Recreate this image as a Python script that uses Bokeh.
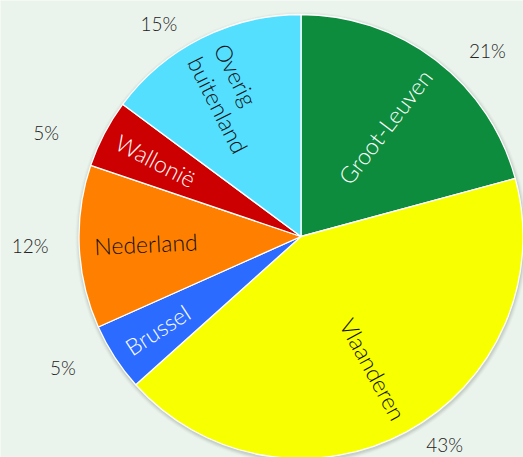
import math
import re
import numpy as np
from bokeh.plotting import figure
from bokeh.models import Range1d, ColumnDataSource
from bokeh.core.properties import value
from bokeh.embed import file_html
from bokeh.resources import INLINE

# ---- data ----
categories = ["Groot-Leuven", "Vlaanderen", "Brussel", "Nederland", "Wallonië", "Overig\nbuitenland"]
percentages = [21, 43, 5, 12, 5, 15]
slice_colors = ["#0C8C3C", "#F8FF00", "#2B6BFF", "#FF8000", "#CC0000", "#55DFFF"]
label_colors = ["#FFFFFF", "#111111", "#FFFFFF", "#111111", "#FFFFFF", "#111111"]
pct_labels = [f"{v}%" for v in percentages]

# ---- layout ----
BG = "#EBF4EC"
W, H = 523, 457
CX, CY = 300.5, H - 236.0
R = 222.0
LABEL_R = 0.932 * R
pct_angle_shift = [7.7, -6.1, 4.1, 0.7, -5.5, -7.0]      # degrees, layout nudge
pct_radius = [263, 253, 272, 271, 275, 256]               # px from centre, layout
FONT = value("'Lato Light', Lato")

vals = np.array(percentages, dtype=float)
frac = vals / vals.sum()
cum_end = np.cumsum(frac) * 2 * math.pi
cum_start = cum_end - frac * 2 * math.pi
start_angle = math.pi / 2 - cum_start
end_angle = math.pi / 2 - cum_end
mid_cw = (cum_start + cum_end) / 2  # clockwise from top

p = figure(width=W, height=H, x_range=Range1d(0, W), y_range=Range1d(0, H),
           output_backend="svg", toolbar_location=None,
           x_axis_type=None, y_axis_type=None, min_border=0,
           outline_line_color=None, background_fill_color=BG,
           border_fill_color=BG)
p.grid.visible = False

# soft shadow
for dr, a in [(4, 0.05), (3, 0.07), (2, 0.10), (1, 0.14)]:
    p.circle(x=CX + 0.5, y=CY - 1.5, radius=R + dr, fill_color="#7F8A80",
             fill_alpha=a, line_color=None)

src = ColumnDataSource(dict(start=start_angle, end=end_angle, color=slice_colors))
p.wedge(x=CX, y=CY, radius=R, start_angle="start", end_angle="end",
        direction="clock", fill_color="color", line_color="#FFFFFF",
        line_width=1.3, source=src)

# slice labels, anchored at outer end, rotated radially
lx, ly, ang, align = [], [], [], []
for m in mid_cw:
    phi = math.pi / 2 - m
    lx.append(CX + LABEL_R * math.cos(phi))
    ly.append(CY + LABEL_R * math.sin(phi))
    if math.cos(phi) >= 0:
        ang.append(phi)
        align.append("right")
    else:
        ang.append(phi + math.pi)
        align.append("left")
lsrc = ColumnDataSource(dict(x=lx, y=ly, text=categories, angle=ang,
                             align=align, color=label_colors))
p.text(x="x", y="y", text="text", angle="angle", text_align="align",
       text_baseline="middle", text_color="color", text_font=FONT,
       text_font_size="23px", text_line_height=1.05, source=lsrc)

# percentage labels outside
px_, py_ = [], []
for m, s, r in zip(mid_cw, pct_angle_shift, pct_radius):
    th = m + math.radians(s)
    phi = math.pi / 2 - th
    px_.append(CX + r * math.cos(phi))
    py_.append(CY + r * math.sin(phi))
psrc = ColumnDataSource(dict(x=px_, y=py_, text=pct_labels))
p.text(x="x", y="y", text="text", text_align="center", text_baseline="middle",
       text_color="#222222", text_font=FONT, text_font_size="19px", source=psrc)

html = file_html(p, INLINE)
html = re.sub(r"<body[^>]*>", '<body style="margin:0;padding:0;background:%s;">' % BG, html, count=1)
open("out.html", "w").write(html)
